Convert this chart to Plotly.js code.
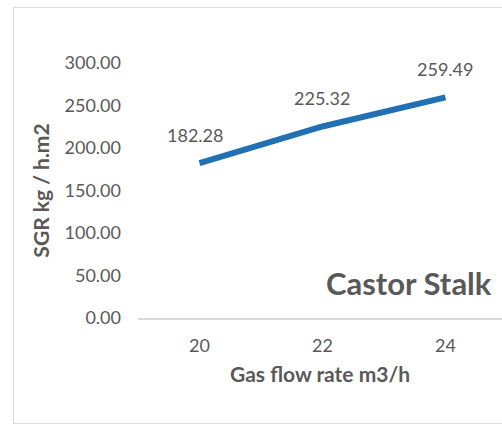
<!DOCTYPE html>
<html>
<head>
<meta charset="utf-8">
<script src="https://cdn.plot.ly/plotly-3.0.1.min.js"></script>
<style>
  html, body { margin: 0; padding: 0; background: #ffffff; overflow: hidden; }
  #wrap { position: relative; width: 502px; height: 424px; }
  #chart { position: absolute; left: 0; top: 0; width: 502px; height: 424px; }
  #frame { position: absolute; left: 13px; top: 7px; width: 600px; height: 415px;
           border: 1px solid #d9d9d9; pointer-events: none; }
</style>
</head>
<body>
<div id="wrap">
  <div id="chart"></div>
  <div id="frame"></div>
</div>
<script>
const categories = ['20', '22', '24'];
const sgrValues = [182.28, 225.32, 259.49];
const yTickValues = [0, 50, 100, 150, 200, 250, 300];
const chartLabel = 'Castor Stalk';
const xTitle = 'Gas flow rate m3/h';
const yTitle = 'SGR kg / h.m2';

const FONT = 'Lato, "Open Sans", sans-serif';
const GREY = '#595959';

const trace = {
  type: 'scatter',
  mode: 'lines',
  x: categories,
  y: sgrValues,
  line: { color: '#2170b3', width: 6, shape: 'linear' },
  hoverinfo: 'skip',
  cliponaxis: false
};

// data labels positioned by category index on the category axis
const labelAnnotations = categories.map((c, i) => ({
  x: i, y: sgrValues[i], xref: 'x', yref: 'y',
  text: sgrValues[i].toFixed(2),
  showarrow: false, yshift: 28, xshift: i === 0 ? -4 : 0,
  font: { family: FONT, size: 18, color: GREY }
}));

const layout = {
  width: 502, height: 424,
  margin: { l: 138, r: 0, t: 63, b: 106 },
  paper_bgcolor: 'rgba(0,0,0,0)',
  plot_bgcolor: 'rgba(0,0,0,0)',
  showlegend: false,
  font: { family: FONT, color: GREY },
  xaxis: {
    type: 'category',
    range: [-0.5, 2.46],
    showgrid: false,
    zeroline: false,
    showline: true, linecolor: '#d9d9d9', linewidth: 1.5,
    ticks: '',
    tickfont: { family: FONT, size: 18, color: GREY },
    ticklabelstandoff: 11,
    title: { text: xTitle, standoff: 12, font: { family: FONT, size: 21, color: GREY, weight: 'bold' } },
    fixedrange: true
  },
  yaxis: {
    range: [0, 300],
    tickvals: yTickValues,
    ticktext: yTickValues.map(v => v.toFixed(2)),
    showgrid: false,
    zeroline: false,
    showline: false,
    ticks: '',
    tickfont: { family: FONT, size: 18, color: GREY },
    ticklabelstandoff: 16,
    title: { text: yTitle, standoff: 9, font: { family: FONT, size: 21, color: GREY, weight: 'bold' } },
    fixedrange: true
  },
  annotations: labelAnnotations.concat([{
    xref: 'paper', yref: 'paper', x: (324 - 138) / 364, y: (318 - 283) / 255,
    xanchor: 'left', yanchor: 'middle',
    text: chartLabel, showarrow: false,
    font: { family: FONT, size: 31, color: GREY, weight: 'bold' }
  }])
};

Plotly.newPlot('chart', [trace], layout, { displayModeBar: false, staticPlot: true });
</script>
</body>
</html>
